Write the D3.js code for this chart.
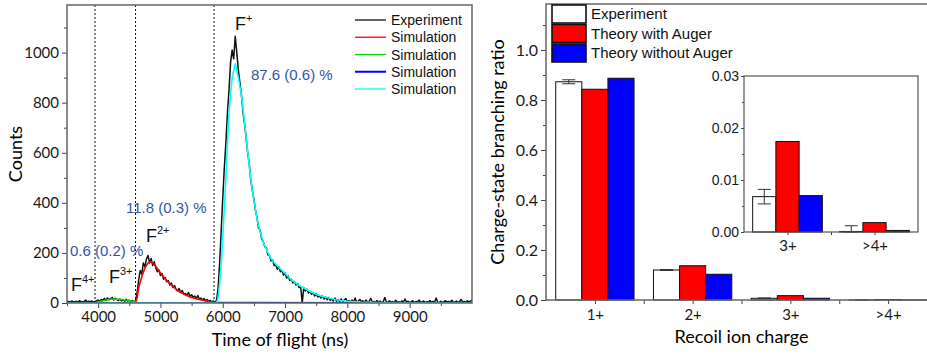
<!DOCTYPE html>
<html>
<head>
<meta charset="utf-8">
<script src="https://cdn.jsdelivr.net/npm/d3@7"></script>
<style>
  body { margin: 0; background: #fff; }
  svg { display: block; }
  .tick text { font-family: Lato, sans-serif; fill: #1a1a1a; }
  .tick line { stroke: #444; }
</style>
</head>
<body>
<div id="chart"></div>
<script>
// ---- left panel: time-of-flight spectrum ----
const tofStart = 3500;
const tofBin = 25;
const expCounts = [
  4, 6, 3, 8, 5, 2, 7, 4,              // 3500
  9, 5, 3, 6, 12, 4, 7, 5,             // 3700
  8, 3, 6, 8, 12, 6, 14, 10,           // 3900
  18, 11, 20, 13, 17, 22, 12, 19,      // 4100
  14, 10, 16, 9, 13, 7, 15, 8,         // 4300
  11, 6, 10, 5, 8, 40, 90, 130,        // 4500
  115, 160, 145, 175, 190, 160, 178, 150, // 4700
  165, 140, 125, 132, 110, 118, 95, 102,  // 4900
  85, 90, 72, 80, 62, 70, 55, 48,      // 5100
  58, 42, 50, 35, 38, 30, 42, 25,      // 5300
  33, 22, 28, 18, 30, 15, 20, 12,      // 5500
  18, 8, 14, 6, 10, 4, 8, 3,           // 5700
  10, 60, 160, 290, 420, 540, 640, 760,   // 5900
  850, 960, 1010, 975, 1065, 1000, 930, 880, // 6100
  830, 760, 715, 660, 600, 555, 490, 450, // 6300
  415, 370, 340, 300, 290, 255, 245, 225, // 6500
  220, 192, 190, 168, 172, 150, 152, 135, // 6700
  145, 125, 130, 112, 120, 100, 108, 90,  // 6900
  95, 80, 86, 72, 78, 62, 66, 0,       // 7100
  62, 48, 55, 40, 47, 35, 42, 28,      // 7300
  38, 24, 30, 20, 28, 16, 24, 13,      // 7500
  22, 10, 17, 8, 20, 7, 14, 6,         // 7700
  16, 5, 12, 18, 4, 10, 3, 12,         // 7900
  4, 20, 2, 8, 14, 5, 9, 3,            // 8100
  12, 2, 7, 18, 4, 6, 2, 10,           // 8300
  3, 8, 1, 5, 22, 4, 3, 9,             // 8500
  2, 6, 1, 11, 3, 5, 2, 8,             // 8700
  4, 16, 3, 7, 2, 5, 9, 1,             // 8900
  6, 3, 12, 2, 4, 8, 1, 5,             // 9100
  3, 10, 2, 6, 4, 20, 3, 2,            // 9300
  7, 1, 5, 9, 3, 6, 2, 11,             // 9500
  4, 3, 8, 2, 5, 14, 3, 6,             // 9700
  2, 9, 4, 7, 12                       // 9900
];

const simF2Times  = [3500, 4600, 4625, 4650, 4700, 4750, 4800, 4850, 4900, 4950, 5000, 5100, 5200, 5300, 5400, 5500, 5600, 5700, 5800, 5900, 10000];
const simF2Counts = [0, 0, 20, 60, 105, 140, 160, 165, 155, 138, 120, 90, 65, 46, 32, 22, 15, 10, 5, 2, 0];
const simF3Times  = [3500, 3950, 4000, 4100, 4200, 4300, 4400, 4500, 4600, 4650, 10000];
const simF3Counts = [0, 0, 4, 10, 15, 16, 13, 9, 5, 0, 0];
const simF4Times  = [3500, 3600, 3700, 3800, 3900, 3950, 4000, 10000];
const simF4Counts = [5, 5, 5, 4, 4, 3, 0, 0];
const simF1Times  = [3500, 5875, 5900, 5925, 5950, 5975, 6000, 6050, 6100, 6150, 6200, 6250, 6300, 6350, 6400, 6450, 6500, 6550, 6600, 6650, 6700, 6750, 6800, 6900, 7000, 7100, 7200, 7300, 7400, 7500, 7600, 7700, 7800, 7900, 8000, 8200, 8500, 9000, 10000];
const simF1Counts = [0, 0, 0, 20, 80, 150, 260, 500, 760, 900, 955, 900, 830, 720, 605, 495, 410, 335, 285, 242, 215, 188, 168, 142, 118, 92, 74, 60, 46, 35, 26, 20, 14, 10, 7, 4, 2, 1, 0];

const dividerTimes = [3950, 4600, 5860];
const legendLabels = ['Experiment', 'Simulation', 'Simulation', 'Simulation', 'Simulation'];
const lineColors = ['#111', '#ff0000', '#00e000', '#0000ff', '#00ffff'];

// ---- right panel: branching ratios ----
const chargeLabels = ['1+', '2+', '3+', '>4+'];
const expRatio     = [0.873, 0.120, 0.0068, 0.0001];
const expError     = [0.008, 0.002, 0.0014, 0.0011];
const withAuger    = [0.843, 0.137, 0.0174, 0.0018];
const withoutAuger = [0.887, 0.103, 0.0070, 0.0003];
const barLegend = ['Experiment', 'Theory with Auger', 'Theory without Auger'];
const barColors = ['#ffffff', '#ff0000', '#0000ff'];

const svg = d3.select('#chart').append('svg').attr('width', 927).attr('height', 354);

// ===== left chart =====
const L = { left: 67, right: 472, top: 5, bottom: 303 };
const x = d3.scaleLinear().domain([3500, 10000]).range([L.left, L.right]);
const y = d3.scaleLinear().domain([0, 1190]).range([L.bottom, L.top]);

svg.append('defs').append('clipPath').attr('id', 'clipL')
  .append('rect').attr('x', L.left).attr('y', L.top).attr('width', L.right - L.left).attr('height', L.bottom - L.top);

const gl = svg.append('g');

gl.selectAll('line.div').data(dividerTimes).join('line')
  .attr('x1', d => x(d)).attr('x2', d => x(d)).attr('y1', L.top).attr('y2', L.bottom)
  .attr('stroke', '#111').attr('stroke-width', 1).attr('stroke-dasharray', '2,2');

const line = d3.line().x(d => x(d[0])).y(d => y(d[1]));
const expPts = expCounts.map((c, i) => [tofStart + i * tofBin, c]);
const sims = [
  [simF2Times, simF2Counts, lineColors[1]],
  [simF3Times, simF3Counts, lineColors[2]],
  [simF4Times, simF4Counts, lineColors[3]],
  [simF1Times, simF1Counts, lineColors[4]]
];
const plotL = gl.append('g').attr('clip-path', 'url(#clipL)');
plotL.append('path').attr('d', line(expPts)).attr('fill', 'none')
  .attr('stroke', lineColors[0]).attr('stroke-width', 1.5).attr('stroke-linejoin', 'round');
sims.forEach(s => {
  plotL.append('path').attr('d', line(s[0].map((t, i) => [t, s[1][i]])))
    .attr('fill', 'none').attr('stroke', s[2]).attr('stroke-width', 1.6).attr('stroke-linejoin', 'round');
});

// axes
const xAx = gl.append('g').attr('transform', `translate(0,${L.bottom})`)
  .call(d3.axisBottom(x).tickValues(d3.range(4000, 10000, 1000)).tickSize(5).tickPadding(3).tickFormat(d3.format('d')));
gl.append('g').attr('transform', `translate(0,${L.bottom})`)
  .call(d3.axisBottom(x).tickValues(d3.range(3500, 10000, 1000)).tickSize(3).tickFormat(''));
const yAx = gl.append('g').attr('transform', `translate(${L.left},0)`)
  .call(d3.axisLeft(y).tickValues(d3.range(0, 1001, 200)).tickSize(5).tickPadding(3).tickFormat(d3.format('d')));
gl.append('g').attr('transform', `translate(${L.left},0)`)
  .call(d3.axisLeft(y).tickValues(d3.range(100, 1190, 200)).tickSize(3).tickFormat(''));
gl.selectAll('.domain').remove();
xAx.selectAll('text').style('font-size', '15px');
yAx.selectAll('text').style('font-size', '15px');

gl.append('rect').attr('x', L.left).attr('y', L.top).attr('width', L.right - L.left).attr('height', L.bottom - L.top)
  .attr('fill', 'none').attr('stroke', '#666').attr('stroke-width', 1.5);

gl.append('text').attr('transform', `translate(22,${(L.top + L.bottom) / 2}) rotate(-90)`)
  .attr('text-anchor', 'middle').style('font-family', 'Lato, sans-serif').style('font-size', '18px').text('Counts');
gl.append('text').attr('x', 280).attr('y', 346)
  .attr('text-anchor', 'middle').style('font-family', 'Lato, sans-serif').style('font-size', '18px').text('Time of flight (ns)');

// legend
const lg = gl.append('g').style('font-family', 'Liberation Sans, Arial, sans-serif').style('font-size', '14px');
legendLabels.forEach((lab, i) => {
  const yy = 20 + i * 17.25;
  lg.append('line').attr('x1', 355).attr('x2', 386).attr('y1', yy).attr('y2', yy)
    .attr('stroke', lineColors[i]).attr('stroke-width', i === 3 ? 2 : 1.3);
  lg.append('text').attr('x', 391).attr('y', yy + 5).attr('fill', '#111').text(lab);
});

// annotations
const ann = gl.append('g').style('font-family', 'Liberation Sans, Arial, sans-serif');
const ions = [['+', 235, 30], ['2+', 146, 242], ['3+', 109, 283], ['4+', 71, 291]];
ions.forEach(d => {
  const t = ann.append('text').attr('x', d[1]).attr('y', d[2]).style('font-size', '18px').attr('fill', '#111');
  t.append('tspan').text('F');
  t.append('tspan').attr('dy', -8).style('font-size', '11px').text(d[0]);
});
const pct = [['87.6 (0.6) %', 251, 80], ['11.8 (0.3) %', 126, 213], ['0.6 (0.2) %', 70, 256]];
pct.forEach(d => {
  ann.append('text').attr('x', d[1]).attr('y', d[2]).style('font-size', '15px').attr('fill', '#2f56a6').text(d[0]);
});

// ===== right chart =====
const R = { left: 546, right: 937, top: 4, bottom: 300 };
const xr = d3.scaleLinear().domain([0.5, 4.5]).range([R.left, R.right]);
const yr = d3.scaleLinear().domain([0, 1.184]).range([R.bottom, R.top]);
const bw = 0.267;
const gr = svg.append('g');

function drawBars(g, xs, ys, idx) {
  const series = [expRatio, withAuger, withoutAuger];
  series.forEach((vals, j) => {
    g.selectAll(null).data(idx).join('rect')
      .attr('x', k => xs(k - idx[0] + 1 + (j - 1) * bw - bw / 2))
      .attr('width', xs(1 + bw) - xs(1))
      .attr('y', k => ys(vals[k]))
      .attr('height', k => ys(0) - ys(vals[k]))
      .attr('fill', barColors[j]).attr('stroke', '#111').attr('stroke-width', 1);
  });
  // error bars on experiment
  idx.forEach(k => {
    const cx = xs(k - idx[0] + 1 - bw);
    const lo = ys(Math.max(0, expRatio[k] - expError[k]));
    const hi = ys(expRatio[k] + expError[k]);
    const cap = 6.5;
    g.append('line').attr('x1', cx).attr('x2', cx).attr('y1', lo).attr('y2', hi).attr('stroke', '#333');
    g.append('line').attr('x1', cx - cap).attr('x2', cx + cap).attr('y1', hi).attr('y2', hi).attr('stroke', '#333');
    g.append('line').attr('x1', cx - cap).attr('x2', cx + cap).attr('y1', lo).attr('y2', lo).attr('stroke', '#333');
  });
}
drawBars(gr, xr, yr, [0, 1, 2, 3]);

const xrAx = gr.append('g').attr('transform', `translate(0,${R.bottom})`)
  .call(d3.axisBottom(xr).tickValues([1, 2, 3, 4]).tickSize(4).tickPadding(5).tickFormat(d => chargeLabels[d - 1]));
gr.append('g').attr('transform', `translate(0,${R.bottom})`)
  .call(d3.axisBottom(xr).tickValues([1.5, 2.5, 3.5]).tickSize(4).tickFormat(''));
const yrAx = gr.append('g').attr('transform', `translate(${R.left},0)`)
  .call(d3.axisLeft(yr).tickValues(d3.range(0, 1.01, 0.2)).tickSize(5).tickPadding(3).tickFormat(d3.format('.1f')));
gr.append('g').attr('transform', `translate(${R.left},0)`)
  .call(d3.axisLeft(yr).tickValues(d3.range(0.1, 1.15, 0.2)).tickSize(3).tickFormat(''));
gr.selectAll('.domain').remove();
xrAx.selectAll('text').style('font-size', '15px');
yrAx.selectAll('text').style('font-size', '16px');

gr.append('rect').attr('x', R.left).attr('y', R.top).attr('width', R.right - R.left).attr('height', R.bottom - R.top)
  .attr('fill', 'none').attr('stroke', '#666').attr('stroke-width', 1.5);

gr.append('text').attr('transform', `translate(504,${(R.top + R.bottom) / 2}) rotate(-90)`)
  .attr('text-anchor', 'middle').style('font-family', 'Lato, sans-serif').style('font-size', '18px').text('Charge-state branching ratio');
gr.append('text').attr('x', (R.left + R.right) / 2).attr('y', 343)
  .attr('text-anchor', 'middle').style('font-family', 'Lato, sans-serif').style('font-size', '18px').text('Recoil ion charge');

const rl = gr.append('g').style('font-family', 'Liberation Sans, Arial, sans-serif').style('font-size', '15px');
barLegend.forEach((lab, i) => {
  const yy = 5 + i * 19.5;
  rl.append('rect').attr('x', 552).attr('y', yy).attr('width', 34).attr('height', 18)
    .attr('fill', barColors[i]).attr('stroke', '#111').attr('stroke-width', 1.6);
  rl.append('text').attr('x', 591).attr('y', yy + 14).attr('fill', '#111').text(lab);
});

// inset
const I = { left: 744, right: 918, top: 76, bottom: 232 };
const xi = d3.scaleLinear().domain([0.5, 2.5]).range([I.left, I.right]);
const yi = d3.scaleLinear().domain([0, 0.03]).range([I.bottom, I.top]);
const gi = svg.append('g');
gi.append('rect').attr('x', I.left).attr('y', I.top).attr('width', I.right - I.left).attr('height', I.bottom - I.top)
  .attr('fill', '#fff');
drawBars(gi, xi, yi, [2, 3]);
const xiAx = gi.append('g').attr('transform', `translate(0,${I.bottom})`)
  .call(d3.axisBottom(xi).tickValues([1, 2]).tickSize(3).tickPadding(5).tickFormat(d => chargeLabels[d + 1]));
gi.append('g').attr('transform', `translate(0,${I.bottom})`)
  .call(d3.axisBottom(xi).tickValues([1.5]).tickSize(3).tickFormat(''));
const yiAx = gi.append('g').attr('transform', `translate(${I.left},0)`)
  .call(d3.axisLeft(yi).tickValues([0, 0.01, 0.02, 0.03]).tickSize(3).tickPadding(2).tickFormat(d3.format('.2f')));
gi.append('g').attr('transform', `translate(${I.left},0)`)
  .call(d3.axisLeft(yi).tickValues([0.005, 0.015, 0.025]).tickSize(2).tickFormat(''));
gi.selectAll('.domain').remove();
xiAx.selectAll('text').style('font-size', '15px');
yiAx.selectAll('text').style('font-family', 'Liberation Sans, Arial, sans-serif').style('font-size', '14px');
gi.append('rect').attr('x', I.left).attr('y', I.top).attr('width', I.right - I.left).attr('height', I.bottom - I.top)
  .attr('fill', 'none').attr('stroke', '#555').attr('stroke-width', 1.2);
</script>
</body>
</html>
